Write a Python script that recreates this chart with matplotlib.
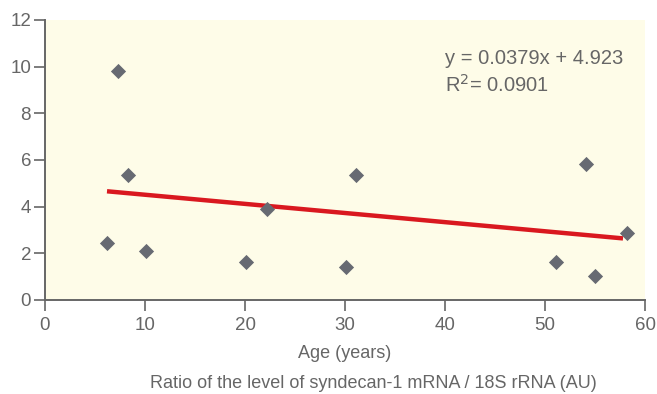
import matplotlib
matplotlib.use("Agg")
import matplotlib.pyplot as plt

# data
age = [6.2, 7.3, 8.3, 10.1, 20.1, 22.2, 30.1, 31.1, 51.1, 54.1, 55.0, 58.2]
ratio = [2.45, 9.8, 5.36, 2.11, 1.62, 3.9, 1.40, 5.36, 1.64, 5.84, 1.04, 2.89]
fit_x = [6.2, 57.8]
fit_y = [4.66, 2.64]
equation = "y = 0.0379x + 4.923"
r2_text = "R$^2$= 0.0901"

plt.rcParams['font.family'] = ['Liberation Sans', 'DejaVu Sans']
grey = "#666666"

fig = plt.figure(figsize=(6.57, 3.94), dpi=100)
ax = fig.add_axes([45/657, 1-300/394, 600/657, 280/394])
ax.set_facecolor("#fefce8")

ax.scatter(age, ratio, marker="D", s=60, color="#676a72", zorder=3, linewidths=0)
ax.plot(fit_x, fit_y, color="#d9181f", lw=3.2, zorder=2, solid_capstyle="butt")

ax.set_xlim(0, 60)
ax.set_ylim(0, 12)
ax.set_xticks(range(0, 61, 10))
ax.set_yticks(range(0, 13, 2))
for s in ["top", "right"]:
    ax.spines[s].set_visible(False)
for s in ["left", "bottom"]:
    ax.spines[s].set_color(grey)
    ax.spines[s].set_linewidth(1.4)
ax.tick_params(colors=grey, labelcolor=grey, labelsize=13.5, length=8, width=1.2, direction="out")
ax.tick_params(axis="x", pad=4)
ax.tick_params(axis="y", pad=2)

fig.text(445/657, 1-58/394, equation, color=grey, fontsize=14.5, va="center", ha="left")
fig.text(445/657, 1-85/394, r2_text, color=grey, fontsize=14.5, va="center", ha="left")

fig.text(345/657, 1-354/394, "Age (years)", color=grey, fontsize=13, ha="center", va="center")
fig.text(373/657, 1-384/394, "Ratio of the level of syndecan-1 mRNA / 18S rRNA (AU)", color=grey, fontsize=13, ha="center", va="center")

fig.savefig("out.png", dpi=100)
